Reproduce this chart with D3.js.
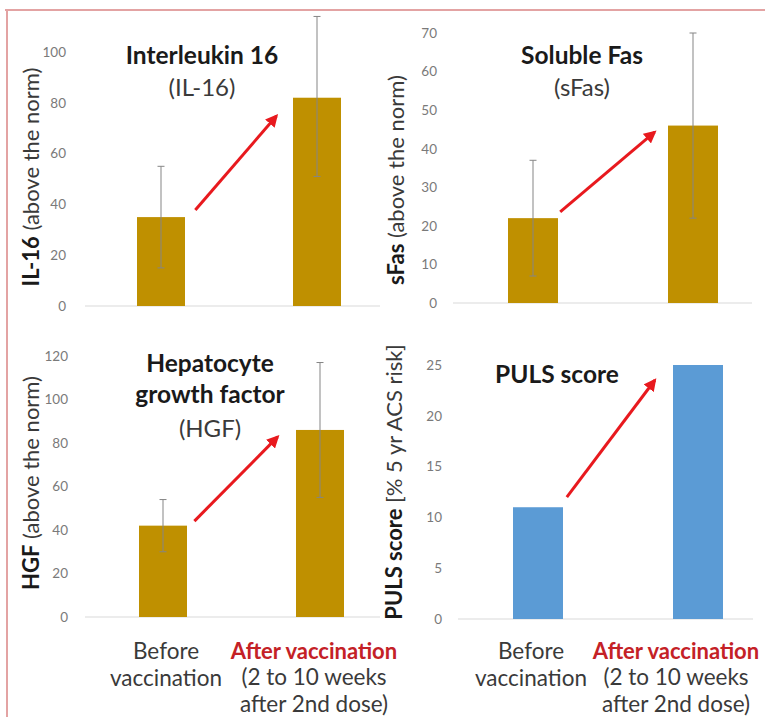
<!DOCTYPE html>
<html>
<head>
<meta charset="utf-8">
<script src="https://cdn.jsdelivr.net/npm/d3@7"></script>
<style>
  body { margin: 0; background: #fff; }
  svg { display: block; font-family: "Lato", "Liberation Sans", sans-serif; }
</style>
</head>
<body>
<div id="chart"></div>
<script>
// ---------------------------- DATA ---------------------------- //
const categories = ["Before vaccination", "After vaccination"];

const il16Values = [35, 82];
const il16ErrLow = [15, 51];
const il16ErrHigh = [55, 114];
const il16Ticks = [0, 20, 40, 60, 80, 100];

const sfasValues = [22, 46];
const sfasErrLow = [7, 22];
const sfasErrHigh = [37, 70];
const sfasTicks = [0, 10, 20, 30, 40, 50, 60, 70];

const hgfValues = [42, 86];
const hgfErrLow = [30, 55];
const hgfErrHigh = [54, 117];
const hgfTicks = [0, 20, 40, 60, 80, 100, 120];

const pulsValues = [11, 25];
const pulsTicks = [0, 5, 10, 15, 20, 25];

const beforeLines = ["Before", "vaccination"];
const afterLines = ["After vaccination", "(2 to 10 weeks", "after 2nd dose)"];

// ---------------------------- SVG ---------------------------- //
const W = 765, H = 717;
const svg = d3.select("#chart").append("svg")
    .attr("width", W).attr("height", H);

// red arrow head
svg.append("defs").append("marker")
    .attr("id", "head")
    .attr("viewBox", "0 0 10 10")
    .attr("refX", 8).attr("refY", 5)
    .attr("markerWidth", 4.2).attr("markerHeight", 4.2)
    .attr("orient", "auto")
    .append("path")
    .attr("d", "M0,0 L10,5 L0,10 z")
    .attr("fill", "#e8191e");

// pink frame
svg.append("line").attr("x1", 5).attr("x2", W).attr("y1", 10).attr("y2", 10)
    .attr("stroke", "#e3a3a3").attr("stroke-width", 2);
svg.append("line").attr("x1", 7).attr("x2", 7).attr("y1", 10).attr("y2", H)
    .attr("stroke", "#e3a3a3").attr("stroke-width", 2);

// ---------------------------- PANEL ---------------------------- //
function drawPanel(p) {
    const g = svg.append("g");

    const x = d3.scalePoint()
        .domain(categories)
        .range(p.xRange)
        .padding(0.5);
    // 0 = first bar centre, 1 = second bar centre (for the arrow)
    const xi = d3.scaleLinear().domain([0, 1])
        .range([x(categories[0]), x(categories[1])]);

    const y = d3.scaleLinear()
        .domain([0, d3.max(p.ticks)])
        .range(p.yRange);

    // baseline
    g.append("line")
        .attr("x1", p.base[0]).attr("x2", p.base[1])
        .attr("y1", y(0)).attr("y2", y(0))
        .attr("stroke", "#d9d9d9").attr("stroke-width", 1);

    // y axis (labels only)
    const ax = g.append("g")
        .attr("transform", `translate(${p.tickX},0)`)
        .call(d3.axisLeft(y).tickValues(p.ticks).tickSize(0).tickPadding(0));
    ax.select(".domain").remove();
    ax.selectAll("text")
        .style("font-family", "Lato, sans-serif")
        .style("font-size", "13.5px")
        .attr("fill", "#7a7a7a");

    // bars
    g.selectAll("rect.bar")
        .data(p.values)
        .enter().append("rect")
        .attr("class", "bar")
        .attr("x", (d, i) => x(categories[i]) - p.barW / 2)
        .attr("width", p.barW)
        .attr("y", d => y(d))
        .attr("height", d => y(0) - y(d))
        .attr("fill", p.color);

    // error bars
    if (p.errLow) {
        const eg = g.selectAll("g.err")
            .data(p.values.map((d, i) => ({ i: i, lo: p.errLow[i], hi: p.errHigh[i] })))
            .enter().append("g").attr("class", "err")
            .attr("stroke", "#858585").attr("stroke-width", 1);
        eg.append("line")
            .attr("x1", d => x(categories[d.i])).attr("x2", d => x(categories[d.i]))
            .attr("y1", d => y(d.lo)).attr("y2", d => y(d.hi));
        eg.append("line")
            .attr("x1", d => x(categories[d.i]) - 3.5).attr("x2", d => x(categories[d.i]) + 3.5)
            .attr("y1", d => y(d.hi)).attr("y2", d => y(d.hi));
        eg.append("line")
            .attr("x1", d => x(categories[d.i]) - 3.5).attr("x2", d => x(categories[d.i]) + 3.5)
            .attr("y1", d => y(d.lo)).attr("y2", d => y(d.lo));
    }

    // arrow
    g.append("line")
        .attr("x1", xi(p.arrow[0][0])).attr("y1", y(p.arrow[0][1]))
        .attr("x2", xi(p.arrow[1][0])).attr("y2", y(p.arrow[1][1]))
        .attr("stroke", "#e8191e").attr("stroke-width", 3)
        .attr("marker-end", "url(#head)");

    // title
    p.title.forEach(function (t) {
        g.append("text")
            .attr("x", p.titleX).attr("y", t.y)
            .attr("text-anchor", "middle").attr("dominant-baseline", "central")
            .style("font-size", t.bold ? "24.5px" : "24px")
            .style("font-weight", t.bold ? "bold" : "normal")
            .attr("fill", t.bold ? "#1a1a1a" : "#3a3a3a")
            .text(t.text);
    });

    // y label
    const yl = g.append("text")
        .attr("transform", `translate(${p.labelPos[0]},${p.labelPos[1]}) rotate(-90)`)
        .attr("text-anchor", "middle").attr("dominant-baseline", "central")
        .style("font-size", "22px")
        .attr("fill", "#1a1a1a");
    yl.append("tspan").style("font-weight", "bold").text(p.label[0]);
    yl.append("tspan").attr("fill", "#3a3a3a").text(p.label[1]);

    // x labels
    if (p.xLabels) {
        beforeLines.forEach(function (t, i) {
            g.append("text")
                .attr("x", p.xLabels[0]).attr("y", 650 + i * 27.5)
                .attr("text-anchor", "middle").attr("dominant-baseline", "central")
                .style("font-size", "22.5px").attr("fill", "#3a3a3a")
                .text(t);
        });
        afterLines.forEach(function (t, i) {
            g.append("text")
                .attr("x", p.xLabels[1]).attr("y", 650 + i * 26.5)
                .attr("text-anchor", "middle").attr("dominant-baseline", "central")
                .style("font-size", i === 0 ? "22px" : "22.5px")
                .style("font-weight", i === 0 ? "bold" : "normal")
                .attr("fill", i === 0 ? "#c42126" : "#3a3a3a")
                .text(t);
        });
    }
}

const gold = "#bf9000";

drawPanel({
    values: il16Values, errLow: il16ErrLow, errHigh: il16ErrHigh, ticks: il16Ticks,
    xRange: [83, 395], yRange: [306, 52], base: [85, 380], tickX: 66, barW: 48, color: gold,
    arrow: [[0.22, 37.8], [0.74, 74.8]],
    titleX: 202, title: [{ text: "Interleukin 16", y: 54, bold: true }, { text: "(IL-16)", y: 86 }],
    labelPos: [30, 177], label: ["IL-16", " (above the norm)"]
});

drawPanel({
    values: sfasValues, errLow: sfasErrLow, errHigh: sfasErrHigh, ticks: sfasTicks,
    xRange: [453, 773], yRange: [303, 33], base: [453, 752], tickX: 437, barW: 50, color: gold,
    arrow: [[0.17, 23.6], [0.76, 44.3]],
    titleX: 582, title: [{ text: "Soluble Fas", y: 54, bold: true }, { text: "(sFas)", y: 86 }],
    labelPos: [395, 180], label: ["sFas", " (above the norm)"]
});

drawPanel({
    values: hgfValues, errLow: hgfErrLow, errHigh: hgfErrHigh, ticks: hgfTicks,
    xRange: [84.5, 398.5], yRange: [617, 356], base: [85, 380], tickX: 68, barW: 48, color: gold,
    arrow: [[0.2, 44.1], [0.73, 82.8]],
    titleX: 210, title: [{ text: "Hepatocyte", y: 362, bold: true }, { text: "growth factor", y: 393, bold: true }, { text: "(HGF)", y: 427 }],
    labelPos: [30, 483], label: ["HGF", " (above the norm)"],
    xLabels: [166, 314]
});

drawPanel({
    values: pulsValues, ticks: pulsTicks,
    xRange: [458, 778], yRange: [619, 365], base: [458, 753], tickX: 442, barW: 50, color: "#5b9bd5",
    arrow: [[0.18, 12.0], [0.73, 23.5]],
    titleX: 557, title: [{ text: "PULS score", y: 373, bold: true }],
    labelPos: [393, 482], label: ["PULS score", " [% 5 yr ACS risk]"],
    xLabels: [531, 676]
});
</script>
</body>
</html>
